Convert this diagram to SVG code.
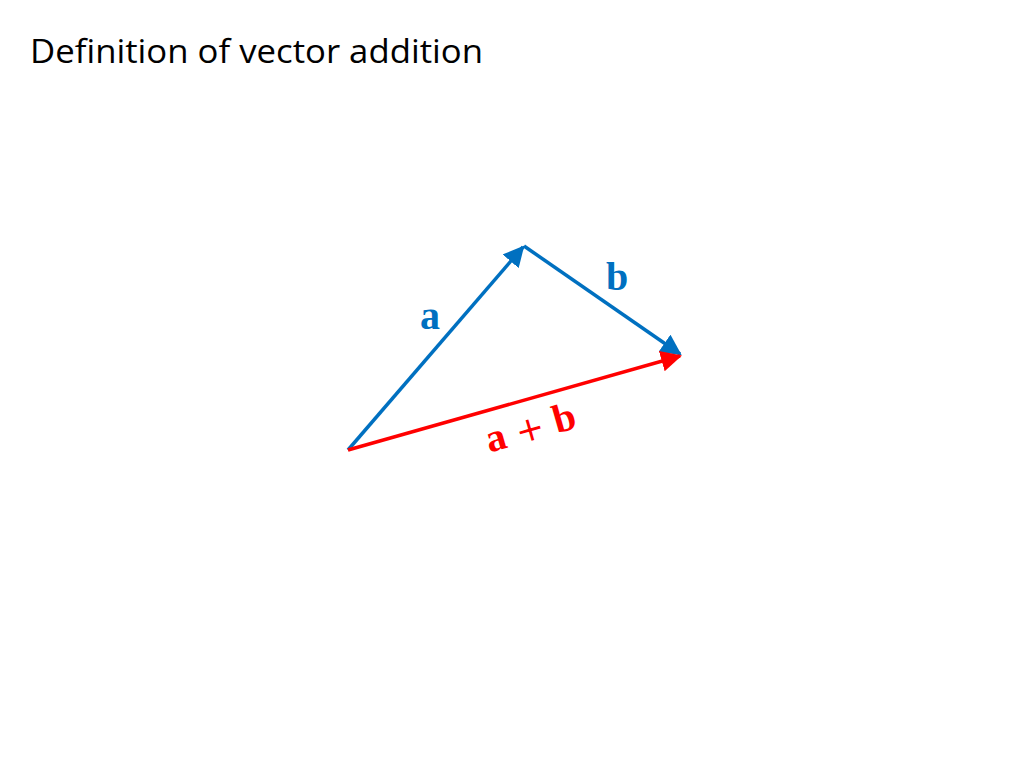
<svg xmlns="http://www.w3.org/2000/svg" width="1024" height="768" viewBox="0 0 1024 768">
<style>
.title{font-family:"Open Sans","Noto Sans",sans-serif;font-size:32px;fill:#000}
.lbl{font-family:"Liberation Serif","DejaVu Serif",serif;font-weight:bold;font-size:40px}
.plus{font-family:"DejaVu Sans",sans-serif;font-weight:normal;font-size:34px}
.blue{stroke:#0070C0;stroke-width:3.5;fill:none}
.red{stroke:#FF0000;stroke-width:3.5;fill:none}
</style>
<defs>
<marker id="ab" viewBox="0 0 10 10" refX="9" refY="5" markerWidth="6" markerHeight="6" markerUnits="strokeWidth" orient="auto"><path d="M0,0 L10,5 L0,10 z" fill="#0070C0"/></marker>
<marker id="ar" viewBox="0 0 10 10" refX="9" refY="5" markerWidth="6" markerHeight="6" markerUnits="strokeWidth" orient="auto"><path d="M0,0 L10,5 L0,10 z" fill="#FF0000"/></marker>
</defs>
<rect width="1024" height="768" fill="#fff"/>
<text class="title" x="30" y="63" textLength="453" lengthAdjust="spacingAndGlyphs">Definition of vector addition</text>
<g id="connectors">
<line id="vec-a" class="blue" x1="348" y1="450" x2="523" y2="247" marker-end="url(#ab)"/>
<line id="vec-b" class="blue" x1="524" y1="246" x2="680" y2="354" marker-end="url(#ab)"/>
<line id="vec-ab" class="red" x1="348" y1="450" x2="680" y2="356" marker-end="url(#ar)"/>
</g>
<g id="label-a"><text class="lbl" x="430" y="329" fill="#0070C0" text-anchor="middle">a</text></g>
<g id="label-b"><text class="lbl" x="617" y="290" fill="#0070C0" text-anchor="middle">b</text></g>
<g id="label-ab"><text class="lbl" x="0" y="0" fill="#FF0000" text-anchor="middle" transform="translate(534,440) rotate(-16)">a<tspan class="plus"> + </tspan>b</text></g>
</svg>
